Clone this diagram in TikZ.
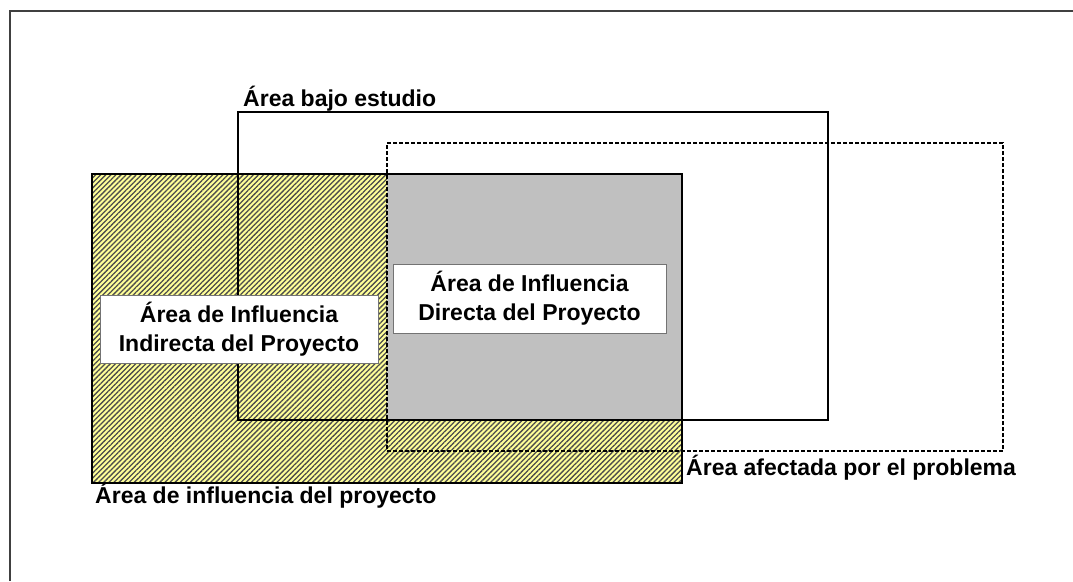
\documentclass[tikz,border=0pt]{standalone}
\usepackage{fontspec}
\setmainfont{Liberation Sans}
\usetikzlibrary{patterns.meta, backgrounds}
\definecolor{hatchyellow}{RGB}{255,255,153}
\definecolor{areagray}{RGB}{192,192,192}
\definecolor{framegray}{RGB}{64,64,64}
\begin{document}
\begin{tikzpicture}[
        x=1pt, y=-1pt,
        area/.style={draw, line width=1.3pt, inner sep=0pt, outer sep=0pt, minimum width=590pt, minimum height=308pt},
        dashedarea/.style={area, dash pattern=on 4pt off 2pt},
        hatch/.style={fill=hatchyellow, postaction={pattern={Lines[angle=45, distance=3.6pt, line width=1.3pt]}, pattern color=black!70}},
        textbox/.style={draw=black!55, fill=white, line width=0.8pt, align=center, font=\fontsize{23}{29}\selectfont\bfseries},
        lbl/.style={anchor=base west, inner sep=0pt, font=\fontsize{23}{27}\selectfont\bfseries}
    ]
        \useasboundingbox (0,0) rectangle (1073,581);
        % Frame
        \draw[framegray, line width=1.2pt] (10,581) -- (10,11) -- (1073,11);

        % Areas
        \node[area] (estudio) at (533,266) {};
        \node[dashedarea, minimum width=616pt] (afectada) at (695,297) {};
        \node[area, minimum height=309pt] (influencia) at (387,328.5) {};

        \begin{scope}[on background layer]
            \fill[hatch] (influencia.north west) rectangle (influencia.south east);
            \fill[areagray] (afectada.west |- influencia.north) rectangle (influencia.east |- estudio.south);
        \end{scope}

        % Boxes
        \node[textbox, minimum width=278pt, minimum height=68pt] (indirecta) at (239,329) {Área de Influencia\\Indirecta del Proyecto};
        \node[textbox, minimum width=273pt, minimum height=69pt] (directa) at (529.5,298.5) {Área de Influencia\\Directa del Proyecto};

        % Labels
        \node[lbl, xshift=5pt, yshift=6pt] (lblestudio) at (estudio.north west) {Área bajo estudio};
        \node[lbl, xshift=4pt, yshift=-24pt] (lblafectada) at (influencia.east |- afectada.south) {Área afectada por el problema};
        \node[lbl, xshift=3pt, yshift=-20pt] (lblinfluencia) at (influencia.south west) {Área de influencia del proyecto};
    \end{tikzpicture}
\end{document}
